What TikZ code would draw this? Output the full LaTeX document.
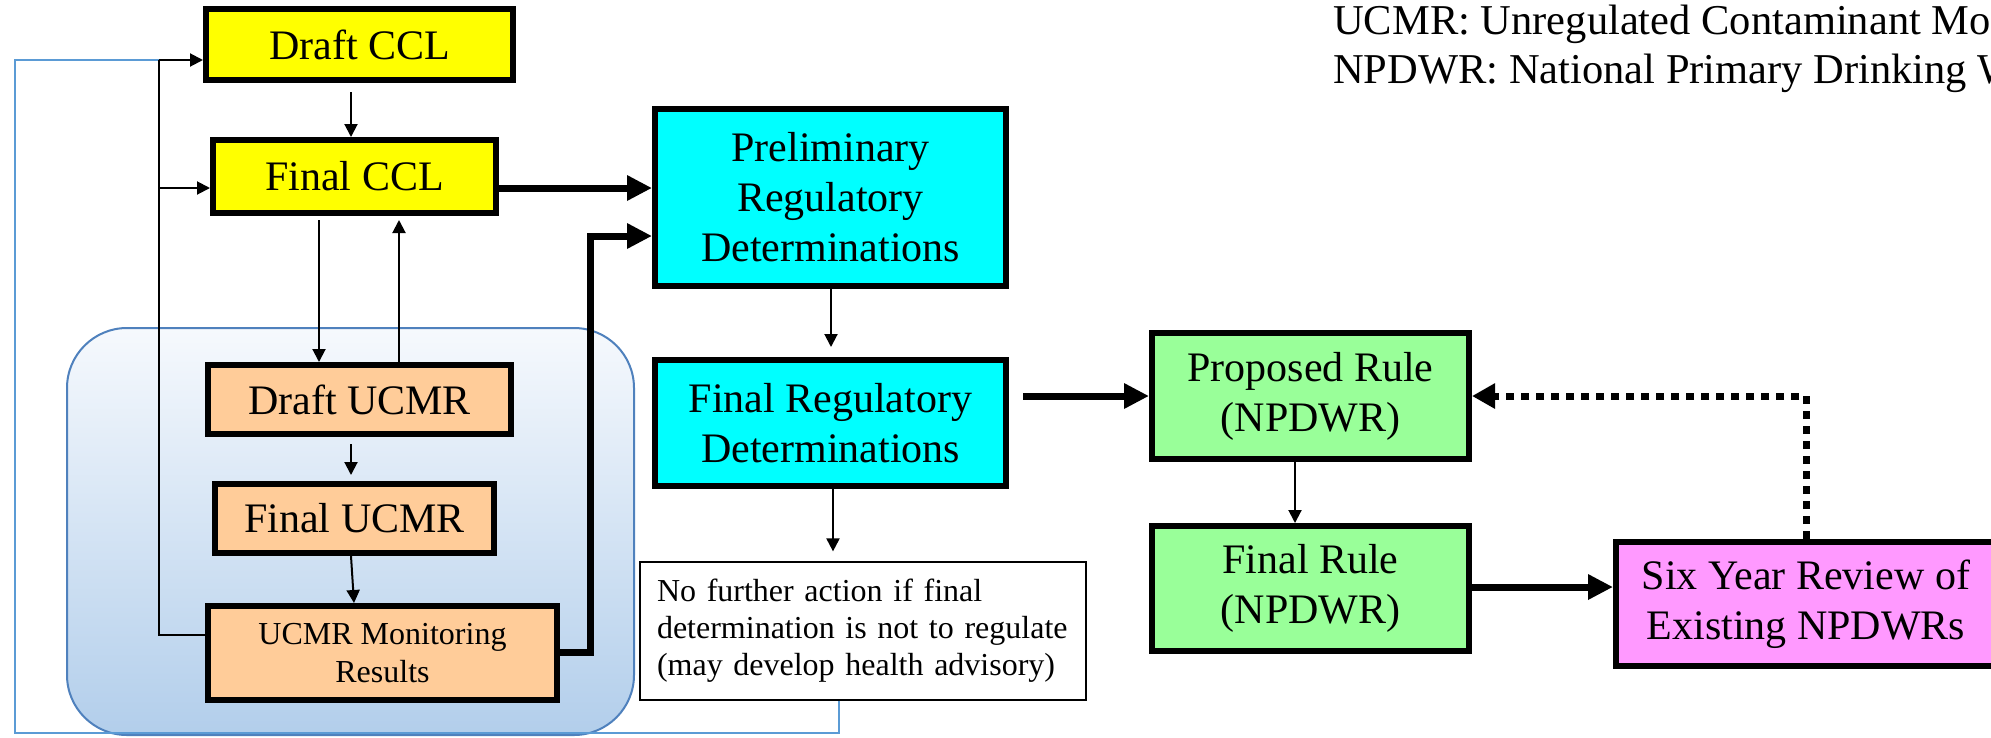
\documentclass[tikz,border=0pt]{standalone}
\usepackage{fontspec}
\setmainfont{Liberation Serif}
\usetikzlibrary{arrows.meta}
\definecolor{ccly}{RGB}{255,255,0}
\definecolor{regc}{RGB}{0,255,255}
\definecolor{ucmro}{RGB}{255,204,153}
\definecolor{ruleg}{RGB}{153,255,153}
\definecolor{sixp}{RGB}{255,153,255}
\definecolor{groupedge}{RGB}{79,129,189}
\definecolor{grouptop}{RGB}{246,249,253}
\definecolor{groupbot}{RGB}{178,206,235}
\definecolor{feedblue}{RGB}{91,155,213}
\begin{document}
\begin{tikzpicture}[x=1pt,y=-1pt,
  box/.style={draw=black, line width=6pt, align=center, inner sep=0pt, font=\fontsize{42}{50}\selectfont},
  thinarrow/.style={line width=2pt, -{Triangle[length=13pt,width=13pt]}},
  thickarrow/.style={line width=7pt, -{Triangle[length=25pt,width=24pt]}},
  dotarrow/.style={line width=7pt, dash pattern=on 8pt off 7pt, -{Triangle[length=23pt,width=24pt]}},
  blueline/.style={draw=feedblue, line width=2.5pt},
  legendtext/.style={anchor=base west, inner sep=0pt, font=\fontsize{42.5}{49}\selectfont},
]
\useasboundingbox (0,0) rectangle (1991,737);
\clip (0,0) rectangle (1991,737);
\fill[white] (0,0) rectangle (1991,737);
% group
\path[draw=groupedge, line width=2pt, top color=grouptop, bottom color=groupbot, rounded corners=60pt] (67,328) rectangle (634,735);
% nodes
\node[box, fill=ccly, minimum width=307pt, minimum height=71pt] (dccl) at (359.5,44.5) {Draft CCL};
\node[box, fill=ccly, minimum width=283pt, minimum height=73pt] (fccl) at (354.5,176.5) {Final CCL};
\node[box, fill=ucmro, minimum width=303pt, minimum height=69pt] (ducmr) at (359.5,399.5) {Draft UCMR};
\node[box, fill=ucmro, minimum width=279pt, minimum height=69pt] (fucmr) at (354.5,518.5) {Final UCMR};
\node[box, fill=ucmro, minimum width=349pt, minimum height=94pt, font=\fontsize{32}{38}\selectfont] (mon) at (382.5,653) {UCMR Monitoring\\Results};
\node[box, fill=regc, minimum width=351pt, minimum height=177pt] (prelim) at (830.5,197.5) {Preliminary\\Regulatory\\Determinations};
\node[box, fill=regc, minimum width=351pt, minimum height=126pt] (frd) at (830.5,423) {Final Regulatory\\Determinations};
\node[draw=black, line width=1.8pt, fill=white, minimum width=446pt, minimum height=134pt, text width=412pt, inner sep=17pt, align=left, font=\fontsize{32}{37}\selectfont] (note) at (863,631) {No further action if final\\determination is not to regulate\\(may develop health advisory)};
\node[box, fill=ruleg, minimum width=317pt, minimum height=126pt] (prop) at (1310.5,396) {Proposed Rule\\(NPDWR)};
\node[box, fill=ruleg, minimum width=317pt, minimum height=125pt] (fr) at (1310.5,588.5) {Final Rule\\(NPDWR)};
\node[box, fill=sixp, minimum width=380pt, minimum height=124pt] (six) at (1806,604) {Six Year Review of\\Existing NPDWRs};
\node[legendtext] (legend1) at (1333,34) {UCMR: Unregulated Contaminant Mo};
\node[legendtext] (legend2) at (1333,83) {NPDWR: National Primary Drinking W};
% coordinates
\coordinate (jn) at (159,60);
\coordinate (bl) at (15,733);
\coordinate (mbend) at (590,236);
% feedback lines
\draw[blueline] (note.south -| 839,0) |- (bl) |- (jn);
\draw[line width=2pt] ([yshift=18pt]mon.west) -| (jn);
\draw[thinarrow] (jn) -- (dccl.west |- jn);
\draw[thinarrow] (jn |- 0,188) -- (fccl.west |- 0,188);
% CCL / UCMR arrows
\draw[thinarrow, shorten <=9pt] (dccl.south -| 351,0) -- (fccl.north -| 351,0);
\draw[thinarrow, shorten <=4pt] (fccl.south -| 319,0) -- (ducmr.north -| 319,0);
\draw[thinarrow, shorten >=4pt] (ducmr.north -| 399,0) -- (fccl.south -| 399,0);
\draw[thinarrow, shorten <=7pt, shorten >=6pt] (ducmr.south -| 351,0) -- (fucmr.north -| 351,0);
\draw[thinarrow] (fucmr.south -| 351,0) -- (mon.north -| 354,0);
% into preliminary
\draw[thickarrow] (fccl.east |- 0,188) -- (prelim.west |- 0,188);
\draw[thickarrow] (mon.east |- 0,652) -| (mbend) -- (prelim.west |- mbend);
% regulatory chain
\draw[thinarrow, shorten >=10pt] (prelim.south -| 831,0) -- (frd.north -| 831,0);
\draw[thinarrow, shorten >=10pt] (frd.south -| 833,0) -- (note.north -| 833,0);
\draw[thickarrow, shorten <=14pt] (frd.east |- prop.west) -- (prop.west);
\draw[thinarrow] (prop.south -| 1295,0) -- (fr.north -| 1295,0);
\draw[thickarrow] (fr.east |- 0,587) -- (six.west |- 0,587);
\draw[dotarrow] (six.north) |- (prop.east);
\end{tikzpicture}
\end{document}
